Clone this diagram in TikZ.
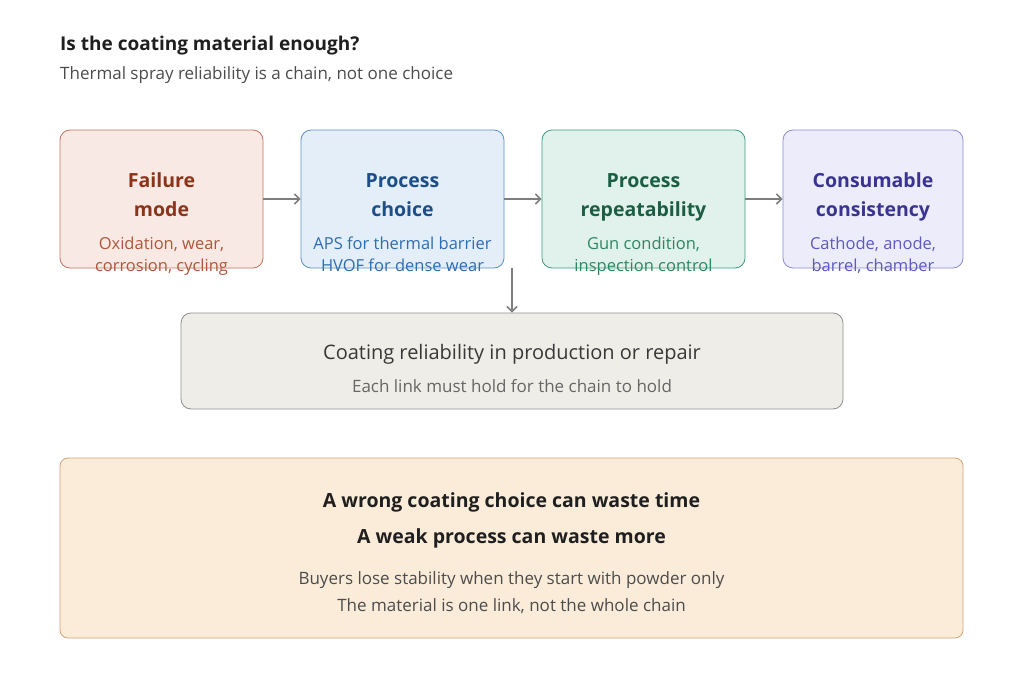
\documentclass[tikz,border=0pt]{standalone}
\usepackage{fontspec}
\setmainfont{Open Sans}
\usetikzlibrary{arrows.meta}
\definecolor{redfill}{HTML}{F9E9E4}
\definecolor{redline}{HTML}{C27560}
\definecolor{redtitle}{HTML}{8A3519}
\definecolor{redsub}{HTML}{B0563A}
\definecolor{bluefill}{HTML}{E4EEF9}
\definecolor{blueline}{HTML}{5B8FC9}
\definecolor{bluetitle}{HTML}{1E4E87}
\definecolor{bluesub}{HTML}{2E6DB2}
\definecolor{greenfill}{HTML}{E0F2EB}
\definecolor{greenline}{HTML}{3F9B79}
\definecolor{greentitle}{HTML}{1B5E44}
\definecolor{greensub}{HTML}{2D8664}
\definecolor{purpfill}{HTML}{EDECFA}
\definecolor{purpline}{HTML}{8C89D9}
\definecolor{purptitle}{HTML}{3A3490}
\definecolor{purpsub}{HTML}{5E59C2}
\definecolor{grayfill}{HTML}{EFEDE8}
\definecolor{grayline}{HTML}{8E8E8E}
\definecolor{orfill}{HTML}{FBECDA}
\definecolor{orline}{HTML}{D3A275}
\definecolor{arrowc}{HTML}{7E7E7E}
\tikzset{
  card/.style={draw=#1line, fill=#1fill, rounded corners=10pt, line width=0.8pt, inner sep=0pt},
  cardtitle/.style={font=\fontsize{19.5}{24}\selectfont\bfseries, text=#1title, anchor=base, inner sep=0pt},
  cardsub/.style={font=\fontsize{16.5}{24}\selectfont, text=#1sub, anchor=base, inner sep=0pt},
  flow/.style={draw=arrowc, line width=1.8pt, -{Straight Barb[length=5pt,width=10pt,line width=1.6pt]}},
}
\begin{document}
\begin{tikzpicture}[x=1pt,y=-1pt]
\useasboundingbox[fill=white] (0,0) rectangle (1024,693);
% header
\node[anchor=west, inner sep=0pt, font=\fontsize{19}{20}\selectfont\bfseries, text=black!88] (title) at (60,46) {Is the coating material enough?};
\node[anchor=west, inner sep=0pt, font=\fontsize{17}{20}\selectfont, text=black!70] (subtitle) at (60,75) {Thermal spray reliability is a chain, not one choice};
% cards
\node[card=red, minimum width=203pt, minimum height=138pt] (c1) at (161.5,199) {};
\node[card=blue, minimum width=203pt, minimum height=138pt] (c2) at (402.5,199) {};
\node[card=green, minimum width=203pt, minimum height=138pt] (c3) at (643.5,199) {};
\node[card=purp, minimum width=180pt, minimum height=138pt] (c4) at (873,199) {};
\foreach \n/\c/\x/\ta/\tb/\sa/\sb in {c1/red/161.5/Failure/mode/{Oxidation, wear,}/{corrosion, cycling},
  c2/blue/402.5/Process/choice/APS for thermal barrier/HVOF for dense wear,
  c3/green/643.5/Process/repeatability/{Gun condition,}/inspection control,
  c4/purp/873/Consumable/consistency/{Cathode, anode,}/{barrel, chamber}}{
  \node[cardtitle=\c] (\n ta) at (\x,187) {\ta};
  \node[cardtitle=\c] (\n tb) at (\x,216) {\tb};
  \node[cardsub=\c] (\n sa) at (\x,249) {\sa};
  \node[cardsub=\c] (\n sb) at (\x,271) {\sb};
}
\draw[flow] (c1.east) -- (c2.west);
\draw[flow] (c2.east) -- (c3.west);
\draw[flow] (c3.east) -- (c4.west);
% result
\node[draw=grayline, fill=grayfill, rounded corners=10pt, line width=0.8pt, minimum width=662pt, minimum height=96pt, inner sep=0pt] (res) at (512,361) {};
\node[inner sep=0pt, font=\fontsize{20}{20}\selectfont, text=black!78] (rest) at (512,354) {Coating reliability in production or repair};
\node[inner sep=0pt, font=\fontsize{17}{20}\selectfont, text=black!60] (ress) at (512,386) {Each link must hold for the chain to hold};
\coordinate (drop) at (512,268);
\draw[flow] (drop) -- (res.north);
% bottom
\node[draw=orline, fill=orfill, rounded corners=8pt, line width=0.8pt, minimum width=903pt, minimum height=180pt, inner sep=0pt] (note) at (511.5,548) {};
\node[inner sep=0pt, font=\fontsize{19.5}{20}\selectfont\bfseries, text=black!88] (n1) at (511.5,502) {A wrong coating choice can waste time};
\node[inner sep=0pt, font=\fontsize{19.5}{20}\selectfont\bfseries, text=black!88] (n2) at (511.5,538) {A weak process can waste more};
\node[inner sep=0pt, font=\fontsize{17}{20}\selectfont, text=black!70] (n3) at (511.5,580) {Buyers lose stability when they start with powder only};
\node[inner sep=0pt, font=\fontsize{17}{20}\selectfont, text=black!70] (n4) at (511.5,606) {The material is one link, not the whole chain};
\end{tikzpicture}
\end{document}
